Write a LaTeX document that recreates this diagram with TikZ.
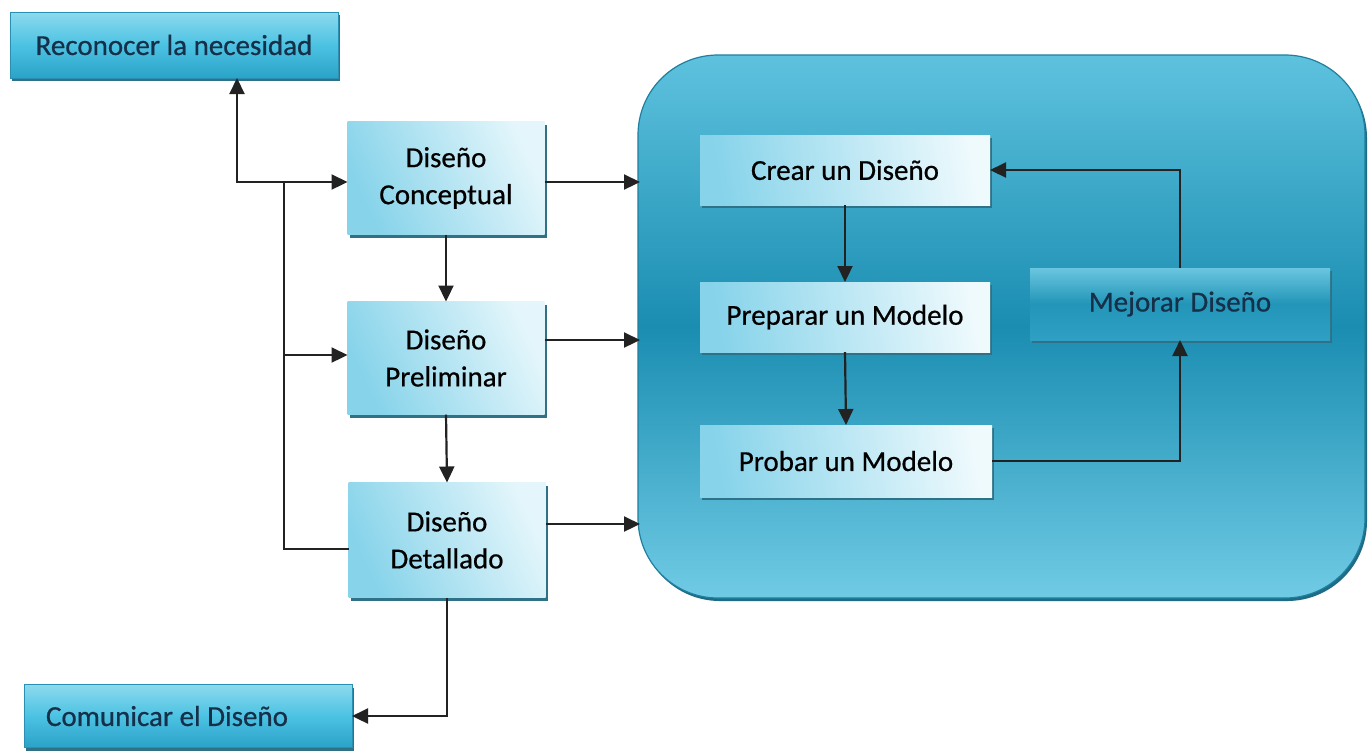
\documentclass[tikz,border=0pt]{standalone}
\usepackage{fontspec}
\setmainfont{Carlito}[FakeBold=0.6]
\usetikzlibrary{arrows.meta,shadows}
\definecolor{lineC}{HTML}{222222}
\definecolor{navyT}{HTML}{16304A}
\definecolor{shadC}{HTML}{2F7187}
\definecolor{obTop}{HTML}{8CDAEE}
\definecolor{obMid}{HTML}{4CC2E3}
\definecolor{obBot}{HTML}{2AA3C8}
\definecolor{obDraw}{HTML}{2A8FB0}
\definecolor{stL}{HTML}{86D3EA}
\definecolor{stR}{HTML}{E4F6FB}
\definecolor{inR}{HTML}{EFFAFD}
\definecolor{dkTop}{HTML}{6AC6DF}
\definecolor{dkMid}{HTML}{2295B8}
\definecolor{dkBot}{HTML}{2FA0C3}
\definecolor{bgTop}{HTML}{5EC2DE}
\definecolor{bgMid}{HTML}{1A8DB1}
\definecolor{bgBot}{HTML}{70CBE5}
\definecolor{bgDraw}{HTML}{1F7F9E}
\definecolor{bgShad}{HTML}{1D6B84}
\tikzset{
  base/.style={rectangle,inner sep=0pt,outer sep=0pt,font=\fontsize{14.5}{18.5}\selectfont,align=center,
    general shadow={shadow xshift=1.2pt,shadow yshift=-1.6pt,fill=shadC}},
  outerbox/.style={base,text=navyT,top color=obTop,bottom color=obBot,middle color=obMid,draw=obDraw,line width=0.4pt},
  stagebox/.style={base,text=black,minimum width=98.5pt,minimum height=56.5pt,
    left color=stL,right color=stR,shading angle=115},
  innerbox/.style={base,text=black,minimum width=145pt,minimum height=35pt,
    left color=stL,right color=inR,shading angle=100},
  darkbox/.style={base,text=navyT,minimum width=150pt,minimum height=36pt,
    top color=dkTop,bottom color=dkBot,middle color=dkMid},
  bigbox/.style={rectangle,inner sep=0pt,outer sep=0pt,minimum width=363.5pt,minimum height=271.5pt,
    rounded corners=40pt,top color=bgTop,bottom color=bgBot,middle color=bgMid,draw=bgDraw,line width=0.6pt,
    general shadow={shadow xshift=1pt,shadow yshift=-1.5pt,fill=bgShad}},
  conn/.style={draw=lineC,line width=1.1pt},
  arr/.style={conn,-{Triangle[length=8pt,width=7.5pt]}}
}
\begin{document}
\begin{tikzpicture}[x=0.5pt,y=-0.5pt]
\useasboundingbox[fill=white] (0,0) rectangle (1368,752);
% outer boxes
\node[outerbox,minimum width=164pt,minimum height=33pt] (rec) at (174,45) {Reconocer la necesidad};
\node[outerbox,minimum width=164pt,minimum height=31.5pt,text width=142pt,align=flush left,inner xsep=11pt] (com) at (188,716) {Comunicar el Diseño};
% stage boxes
\node[stagebox] (con) at (446,178) {Diseño\\Conceptual};
\node[stagebox] (pre) at (446,358) {Diseño\\Preliminar};
\node[stagebox,minimum height=57.5pt] (det) at (447,540) {Diseño\\Detallado};
% big rounded box
\node[bigbox] (big) at (1001.5,326.5) {};
% inner boxes
\node[innerbox] (cre) at (845,170) {Crear un Diseño};
\node[innerbox] (prep) at (845,317) {Preparar un Modelo};
\node[innerbox,minimum width=146pt,minimum height=36pt] (prob) at (846,461) {Probar un Modelo};
\node[darkbox] (mej) at (1180,304) {Mejorar Diseño};
% left feedback bus
\coordinate (jd) at (284,549);
\coordinate (jc) at (284,182);
\coordinate (jr) at (237,182);
\coordinate (jp) at (284,355);
\draw[arr] ([yshift=-4.5pt]det.west) -- (jd) -- (jc) -- (jr) -- (jr |- rec.south);
\draw[arr] (jc) -- (jc -| con.west);
\draw[arr] (jp) -- (jp -| pre.west);
% stage to big box
\coordinate (bc) at (640,182);
\coordinate (bp) at (640,340);
\coordinate (bd) at (640,524);
\draw[arr] (bc -| con.east) -- (bc);
\draw[arr] (bp -| pre.east) -- (bp);
\draw[arr] (bd -| det.east) -- (bd);
% vertical flow
\draw[arr] (con.south) -- (pre.north);
\draw[arr] (pre.south) -- (det.north);
\draw[arr] (det.south) -- (det.south |- com.east) -- (com.east);
% inner loop
\draw[arr] (cre.south) -- (prep.north);
\draw[arr] (prep.south) -- (prob.north);
\draw[arr] (prob.east) -| (mej.south);
\draw[arr] (mej.north) |- (cre.east);
\end{tikzpicture}
\end{document}
